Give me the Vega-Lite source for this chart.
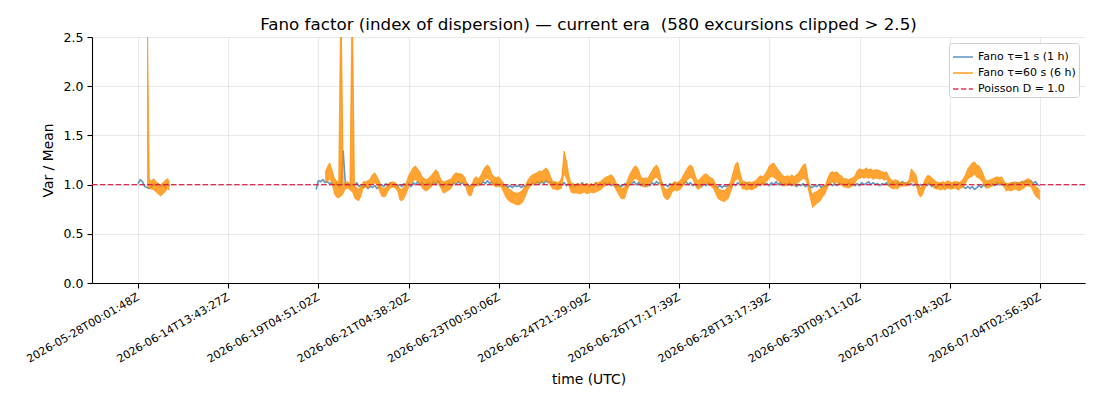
{
  "$schema": "https://vega.github.io/schema/vega-lite/v6.json",
  "autosize": {"type": "none"},
  "padding": {"left": 92, "top": 37, "right": 15, "bottom": 117},
  "width": 993,
  "height": 246,
  "title": {
    "text": "Fano factor (index of dispersion) — current era \u00a0(580 excursions clipped > 2.5)",
    "fontSize": 16.7,
    "fontWeight": "normal",
    "font": "DejaVu Sans",
    "color": "#000000",
    "offset": -3
  },
  "data": {
    "values": [
      {"u":0,"g":1,"b":1.01},{"u":2.5,"g":1,"b":1.05},{"u":5,"g":1,"b":1.03},{"u":7.5,"g":1,"b":0.98},
      {"u":10,"g":1,"b":0.97,"lo":0.97,"hi":3},{"u":12.5,"g":1,"b":0.96,"lo":0.96,"hi":1.05},
      {"u":15,"g":1,"b":0.98,"lo":0.95,"hi":1.04},{"u":17.5,"g":1,"b":1.00,"lo":0.94,"hi":1.06},
      {"u":20,"g":1,"b":0.99,"lo":0.92,"hi":1.03},{"u":22.5,"g":1,"b":1.01,"lo":0.90,"hi":1.01},
      {"u":25,"g":1,"b":0.98,"lo":0.88,"hi":0.99},{"u":27.5,"g":1,"b":1.00,"lo":0.90,"hi":1.02},
      {"u":30,"g":1,"b":0.97,"lo":0.92,"hi":1.04},{"u":32.5,"g":1,"b":1.01,"lo":0.95,"hi":1.06},
      {"u":35,"g":1,"b":0.99,"lo":0.94,"hi":1.03},

      {"u":197.5,"g":2,"b":0.95},{"u":200,"g":2,"b":1.04},{"u":202.5,"g":2,"b":1.03},{"u":205,"g":2,"b":1.05},
      {"u":207.5,"g":2,"b":1.02,"lo":1.02,"hi":1.12},{"u":210,"g":2,"b":1.03,"lo":1.03,"hi":1.18},
      {"u":212.5,"g":2,"b":1.01,"lo":1.05,"hi":1.22},{"u":215,"g":2,"b":1.02,"lo":1.00,"hi":1.15},
      {"u":217.5,"g":2,"b":0.99,"lo":0.90,"hi":1.07},{"u":220,"g":2,"b":1.01,"lo":0.87,"hi":1.04},
      {"u":222.5,"g":2,"b":0.98,"lo":0.86,"hi":1.02},{"u":225,"g":2,"b":0.99,"lo":0.88,"hi":3},
      {"u":227.5,"g":2,"b":1.34,"lo":0.90,"hi":1.00},{"u":230,"g":2,"b":0.99,"lo":0.95,"hi":1.02},
      {"u":232.5,"g":2,"b":1.01,"lo":0.96,"hi":1.03},{"u":235,"g":2,"b":0.98,"lo":0.94,"hi":1.01},
      {"u":237.5,"g":2,"b":1.00,"lo":0.92,"hi":3},{"u":240,"g":2,"b":0.99,"lo":0.86,"hi":0.98},
      {"u":242.5,"g":2,"b":1.02,"lo":0.84,"hi":0.97},{"u":245,"g":2,"b":0.98,"lo":0.83,"hi":0.95},
      {"u":247.5,"g":2,"b":1.00,"lo":0.88,"hi":0.99},{"u":250,"g":2,"b":0.97,"lo":0.96,"hi":1.03},
      {"u":252.5,"g":2,"b":0.99,"lo":0.97,"hi":1.03},{"u":255,"g":2,"b":0.96,"lo":0.96,"hi":1.04},
      {"u":257.5,"g":2,"b":0.98,"lo":0.98,"hi":1.06},{"u":260,"g":2,"b":0.97,"lo":1.00,"hi":1.10},
      {"u":262.5,"g":2,"b":0.99,"lo":1.01,"hi":1.12},{"u":265,"g":2,"b":0.96,"lo":0.99,"hi":1.08},
      {"u":267.5,"g":2,"b":0.98,"lo":0.93,"hi":1.04},{"u":270,"g":2,"b":1.00,"lo":0.88,"hi":0.97},
      {"u":272.5,"g":2,"b":0.98,"lo":0.87,"hi":0.96},{"u":275,"g":2,"b":1.01,"lo":0.88,"hi":0.97},
      {"u":277.5,"g":2,"b":0.99,"lo":0.93,"hi":1.01},{"u":280,"g":2,"b":1.02,"lo":0.96,"hi":1.02},
      {"u":282.5,"g":2,"b":0.99,"lo":0.97,"hi":1.03},{"u":285,"g":2,"b":1.01,"lo":0.96,"hi":1.02},
      {"u":287.5,"g":2,"b":0.98,"lo":0.93,"hi":1.00},{"u":290,"g":2,"b":1.00,"lo":0.84,"hi":0.96},
      {"u":292.5,"g":2,"b":0.98,"lo":0.83,"hi":0.95},{"u":295,"g":2,"b":1.01,"lo":0.85,"hi":0.98},
      {"u":297.5,"g":2,"b":0.99,"lo":0.90,"hi":1.02},{"u":300,"g":2,"b":1.01,"lo":0.96,"hi":1.09},
      {"u":302.5,"g":2,"b":0.98,"lo":1.00,"hi":1.13},{"u":305,"g":2,"b":1.02,"lo":1.03,"hi":1.17},
      {"u":307.5,"g":2,"b":1.00,"lo":1.05,"hi":1.19},{"u":310,"g":2,"b":1.03,"lo":1.03,"hi":1.16},
      {"u":312.5,"g":2,"b":1.00,"lo":1.00,"hi":1.13},{"u":315,"g":2,"b":1.02,"lo":0.96,"hi":1.08},
      {"u":317.5,"g":2,"b":0.99,"lo":0.94,"hi":1.06},{"u":320,"g":2,"b":1.01,"lo":0.93,"hi":1.05},
      {"u":322.5,"g":2,"b":1.02,"lo":0.95,"hi":1.07},{"u":325,"g":2,"b":0.99,"lo":0.97,"hi":1.09},
      {"u":327.5,"g":2,"b":1.03,"lo":1.00,"hi":1.12},{"u":330,"g":2,"b":1.00,"lo":1.02,"hi":1.15},
      {"u":332.5,"g":2,"b":1.04,"lo":1.01,"hi":1.13},{"u":335,"g":2,"b":1.01,"lo":0.97,"hi":1.07},
      {"u":337.5,"g":2,"b":0.98,"lo":0.92,"hi":1.03},{"u":340,"g":2,"b":1.01,"lo":0.91,"hi":1.03},
      {"u":342.5,"g":2,"b":0.99,"lo":0.93,"hi":1.04},{"u":345,"g":2,"b":1.02,"lo":0.94,"hi":1.05},
      {"u":347.5,"g":2,"b":0.99,"lo":0.96,"hi":1.06},{"u":350,"g":2,"b":1.02,"lo":1.00,"hi":1.10},
      {"u":352.5,"g":2,"b":1.00,"lo":1.02,"hi":1.12},{"u":355,"g":2,"b":1.03,"lo":1.03,"hi":1.11},
      {"u":357.5,"g":2,"b":1.01,"lo":1.01,"hi":1.11},{"u":360,"g":2,"b":1.02,"lo":1.02,"hi":1.10},
      {"u":362.5,"g":2,"b":0.99,"lo":0.99,"hi":1.07},{"u":365,"g":2,"b":1.01,"lo":0.91,"hi":1.00},
      {"u":367.5,"g":2,"b":0.98,"lo":0.88,"hi":0.98},{"u":370,"g":2,"b":1.00,"lo":0.89,"hi":0.99},
      {"u":372.5,"g":2,"b":1.01,"lo":0.96,"hi":1.06},{"u":375,"g":2,"b":0.99,"lo":0.99,"hi":1.08},
      {"u":377.5,"g":2,"b":1.02,"lo":0.98,"hi":1.06},{"u":380,"g":2,"b":1.00,"lo":1.00,"hi":1.09},
      {"u":382.5,"g":2,"b":1.03,"lo":1.03,"hi":1.14},{"u":385,"g":2,"b":1.01,"lo":1.05,"hi":1.18},
      {"u":387.5,"g":2,"b":1.04,"lo":1.06,"hi":1.20},{"u":390,"g":2,"b":1.01,"lo":1.04,"hi":1.17},
      {"u":392.5,"g":2,"b":1.03,"lo":1.00,"hi":1.10},{"u":395,"g":2,"b":1.00,"lo":0.98,"hi":1.08},
      {"u":397.5,"g":2,"b":1.02,"lo":0.97,"hi":1.07},{"u":400,"g":2,"b":0.99,"lo":0.98,"hi":1.08},
      {"u":402.5,"g":2,"b":1.01,"lo":0.97,"hi":1.05},{"u":405,"g":2,"b":0.98,"lo":0.92,"hi":1.02},
      {"u":407.5,"g":2,"b":1.00,"lo":0.87,"hi":0.98},{"u":410,"g":2,"b":0.97,"lo":0.84,"hi":0.96},
      {"u":412.5,"g":2,"b":0.99,"lo":0.82,"hi":0.95},{"u":415,"g":2,"b":0.97,"lo":0.81,"hi":0.93},
      {"u":417.5,"g":2,"b":0.99,"lo":0.80,"hi":0.92},{"u":420,"g":2,"b":0.98,"lo":0.79,"hi":0.91},
      {"u":422.5,"g":2,"b":0.99,"lo":0.79,"hi":0.92},{"u":425,"g":2,"b":0.97,"lo":0.80,"hi":0.93},
      {"u":427.5,"g":2,"b":0.99,"lo":0.83,"hi":0.96},{"u":430,"g":2,"b":0.98,"lo":0.88,"hi":1.00},
      {"u":432.5,"g":2,"b":1.01,"lo":0.94,"hi":1.05},{"u":435,"g":2,"b":0.99,"lo":0.98,"hi":1.08},
      {"u":437.5,"g":2,"b":1.02,"lo":1.00,"hi":1.10},{"u":440,"g":2,"b":1.00,"lo":1.00,"hi":1.11},
      {"u":442.5,"g":2,"b":1.03,"lo":1.01,"hi":1.12},{"u":445,"g":2,"b":1.01,"lo":1.02,"hi":1.14},
      {"u":447.5,"g":2,"b":1.03,"lo":1.01,"hi":1.13},{"u":450,"g":2,"b":1.01,"lo":1.03,"hi":1.15},
      {"u":452.5,"g":2,"b":1.04,"lo":1.04,"hi":1.17},{"u":455,"g":2,"b":1.02,"lo":1.02,"hi":1.14},
      {"u":457.5,"g":2,"b":1.03,"lo":0.98,"hi":1.08},{"u":460,"g":2,"b":1.00,"lo":0.95,"hi":1.03},
      {"u":462.5,"g":2,"b":1.02,"lo":0.95,"hi":1.03},{"u":465,"g":2,"b":0.99,"lo":0.94,"hi":1.02},
      {"u":467.5,"g":2,"b":1.01,"lo":0.95,"hi":1.03},{"u":470,"g":2,"b":1.00,"lo":0.96,"hi":1.08},
      {"u":472.5,"g":2,"b":1.02,"lo":1.10,"hi":1.34},{"u":475,"g":2,"b":0.99,"lo":1.05,"hi":1.24},
      {"u":477.5,"g":2,"b":1.01,"lo":0.98,"hi":1.10},{"u":480,"g":2,"b":0.98,"lo":0.92,"hi":1.02},
      {"u":482.5,"g":2,"b":1.00,"lo":0.91,"hi":1.01},{"u":485,"g":2,"b":0.98,"lo":0.91,"hi":1.00},
      {"u":487.5,"g":2,"b":1.01,"lo":0.91,"hi":1.01},{"u":490,"g":2,"b":0.99,"lo":0.90,"hi":1.00},
      {"u":492.5,"g":2,"b":1.02,"lo":0.91,"hi":1.01},{"u":495,"g":2,"b":0.99,"lo":0.92,"hi":1.00},
      {"u":497.5,"g":2,"b":1.01,"lo":0.90,"hi":1.01},{"u":500,"g":2,"b":0.98,"lo":0.91,"hi":1.00},
      {"u":502.5,"g":2,"b":1.00,"lo":0.92,"hi":1.01},{"u":505,"g":2,"b":0.99,"lo":0.91,"hi":1.00},
      {"u":507.5,"g":2,"b":1.02,"lo":0.92,"hi":1.02},{"u":510,"g":2,"b":0.98,"lo":0.93,"hi":1.02},
      {"u":512.5,"g":2,"b":1.01,"lo":0.94,"hi":1.03},{"u":515,"g":2,"b":0.99,"lo":0.96,"hi":1.05},
      {"u":517.5,"g":2,"b":1.02,"lo":0.98,"hi":1.07},{"u":520,"g":2,"b":1.00,"lo":0.99,"hi":1.08},
      {"u":522.5,"g":2,"b":1.02,"lo":1.00,"hi":1.09},{"u":525,"g":2,"b":0.99,"lo":1.01,"hi":1.10},
      {"u":527.5,"g":2,"b":1.01,"lo":0.98,"hi":1.07},{"u":530,"g":2,"b":0.98,"lo":0.94,"hi":1.02},
      {"u":532.5,"g":2,"b":1.00,"lo":0.90,"hi":0.99},{"u":535,"g":2,"b":0.98,"lo":0.86,"hi":0.97},
      {"u":537.5,"g":2,"b":0.99,"lo":0.85,"hi":0.96},{"u":540,"g":2,"b":1.01,"lo":0.86,"hi":0.98},
      {"u":542.5,"g":2,"b":0.98,"lo":0.93,"hi":1.04},{"u":545,"g":2,"b":1.00,"lo":0.99,"hi":1.10},
      {"u":547.5,"g":2,"b":1.01,"lo":1.02,"hi":1.14},{"u":550,"g":2,"b":1.03,"lo":1.05,"hi":1.18},
      {"u":552.5,"g":2,"b":1.00,"lo":1.06,"hi":1.19},{"u":555,"g":2,"b":1.02,"lo":1.03,"hi":1.15},
      {"u":557.5,"g":2,"b":0.99,"lo":0.99,"hi":1.08},{"u":560,"g":2,"b":1.01,"lo":0.97,"hi":1.06},
      {"u":562.5,"g":2,"b":0.98,"lo":0.98,"hi":1.07},{"u":565,"g":2,"b":1.00,"lo":0.97,"hi":1.06},
      {"u":567.5,"g":2,"b":0.99,"lo":1.00,"hi":1.10},{"u":570,"g":2,"b":1.02,"lo":1.03,"hi":1.14},
      {"u":572.5,"g":2,"b":1.00,"lo":1.06,"hi":1.18},{"u":575,"g":2,"b":1.03,"lo":1.07,"hi":1.20},
      {"u":577.5,"g":2,"b":1.01,"lo":1.04,"hi":1.16},{"u":580,"g":2,"b":1.02,"lo":0.96,"hi":1.06},
      {"u":582.5,"g":2,"b":0.99,"lo":0.88,"hi":0.98},{"u":585,"g":2,"b":1.00,"lo":0.85,"hi":0.95},
      {"u":587.5,"g":2,"b":0.98,"lo":0.84,"hi":0.95},{"u":590,"g":2,"b":1.01,"lo":0.87,"hi":0.98},
      {"u":592.5,"g":2,"b":0.99,"lo":0.92,"hi":1.01},{"u":595,"g":2,"b":1.02,"lo":0.94,"hi":1.03},
      {"u":597.5,"g":2,"b":1.00,"lo":0.93,"hi":1.02},{"u":600,"g":2,"b":1.02,"lo":0.94,"hi":1.03},
      {"u":602.5,"g":2,"b":0.99,"lo":0.96,"hi":1.06},{"u":605,"g":2,"b":1.01,"lo":0.99,"hi":1.10},
      {"u":607.5,"g":2,"b":1.03,"lo":1.02,"hi":1.14},{"u":610,"g":2,"b":1.00,"lo":1.05,"hi":1.18},
      {"u":612.5,"g":2,"b":1.02,"lo":1.07,"hi":1.20},{"u":615,"g":2,"b":0.99,"lo":1.05,"hi":1.18},
      {"u":617.5,"g":2,"b":1.01,"lo":0.99,"hi":1.10},{"u":620,"g":2,"b":0.98,"lo":0.95,"hi":1.04},
      {"u":622.5,"g":2,"b":1.00,"lo":0.95,"hi":1.05},{"u":625,"g":2,"b":0.98,"lo":0.98,"hi":1.08},
      {"u":627.5,"g":2,"b":1.01,"lo":1.00,"hi":1.10},{"u":630,"g":2,"b":0.99,"lo":1.01,"hi":1.11},
      {"u":632.5,"g":2,"b":1.02,"lo":0.99,"hi":1.09},{"u":635,"g":2,"b":1.00,"lo":0.98,"hi":1.07},
      {"u":637.5,"g":2,"b":1.01,"lo":0.96,"hi":1.06},{"u":640,"g":2,"b":0.98,"lo":0.91,"hi":1.01},
      {"u":642.5,"g":2,"b":0.97,"lo":0.86,"hi":0.97},{"u":645,"g":2,"b":0.99,"lo":0.84,"hi":0.95},
      {"u":647.5,"g":2,"b":0.97,"lo":0.83,"hi":0.94},{"u":650,"g":2,"b":0.99,"lo":0.82,"hi":0.94},
      {"u":652.5,"g":2,"b":0.98,"lo":0.84,"hi":0.96},{"u":655,"g":2,"b":1.00,"lo":0.86,"hi":0.99},
      {"u":657.5,"g":2,"b":0.98,"lo":0.92,"hi":1.04},{"u":660,"g":2,"b":1.01,"lo":0.99,"hi":1.13},
      {"u":662.5,"g":2,"b":0.99,"lo":1.04,"hi":1.21},{"u":665,"g":2,"b":1.02,"lo":1.06,"hi":1.23},
      {"u":667.5,"g":2,"b":1.00,"lo":1.00,"hi":1.12},{"u":670,"g":2,"b":1.01,"lo":0.95,"hi":1.04},
      {"u":672.5,"g":2,"b":0.99,"lo":0.95,"hi":1.03},{"u":675,"g":2,"b":1.02,"lo":0.94,"hi":1.02},
      {"u":677.5,"g":2,"b":1.00,"lo":0.95,"hi":1.03},{"u":680,"g":2,"b":0.98,"lo":0.94,"hi":1.02},
      {"u":682.5,"g":2,"b":1.01,"lo":0.95,"hi":1.03},{"u":685,"g":2,"b":0.99,"lo":0.96,"hi":1.04},
      {"u":687.5,"g":2,"b":1.01,"lo":0.98,"hi":1.07},{"u":690,"g":2,"b":0.99,"lo":1.00,"hi":1.09},
      {"u":692.5,"g":2,"b":1.02,"lo":0.99,"hi":1.08},{"u":695,"g":2,"b":1.00,"lo":1.00,"hi":1.10},
      {"u":697.5,"g":2,"b":1.01,"lo":1.03,"hi":1.14},{"u":700,"g":2,"b":0.99,"lo":1.06,"hi":1.19},
      {"u":702.5,"g":2,"b":1.02,"lo":1.08,"hi":1.21},{"u":705,"g":2,"b":1.00,"lo":1.07,"hi":1.22},
      {"u":707.5,"g":2,"b":1.03,"lo":1.05,"hi":1.18},{"u":710,"g":2,"b":1.00,"lo":1.03,"hi":1.15},
      {"u":712.5,"g":2,"b":1.02,"lo":1.01,"hi":1.12},{"u":715,"g":2,"b":0.99,"lo":0.99,"hi":1.09},
      {"u":717.5,"g":2,"b":1.01,"lo":0.98,"hi":1.08},{"u":720,"g":2,"b":1.00,"lo":0.99,"hi":1.09},
      {"u":722.5,"g":2,"b":1.02,"lo":0.99,"hi":1.08},{"u":725,"g":2,"b":0.99,"lo":1.00,"hi":1.10},
      {"u":727.5,"g":2,"b":1.01,"lo":0.98,"hi":1.08},{"u":730,"g":2,"b":0.98,"lo":1.00,"hi":1.10},
      {"u":732.5,"g":2,"b":1.00,"lo":1.02,"hi":1.12},{"u":735,"g":2,"b":0.99,"lo":1.04,"hi":1.16},
      {"u":737.5,"g":2,"b":1.01,"lo":1.06,"hi":1.20},{"u":740,"g":2,"b":0.98,"lo":1.05,"hi":1.21},
      {"u":742.5,"g":2,"b":1.00,"lo":0.96,"hi":1.08},{"u":745,"g":2,"b":0.98,"lo":0.86,"hi":0.98},
      {"u":747.5,"g":2,"b":0.97,"lo":0.76,"hi":0.90},{"u":750,"g":2,"b":0.99,"lo":0.78,"hi":0.92},
      {"u":752.5,"g":2,"b":0.98,"lo":0.80,"hi":0.93},{"u":755,"g":2,"b":1.00,"lo":0.82,"hi":0.95},
      {"u":757.5,"g":2,"b":0.97,"lo":0.84,"hi":0.96},{"u":760,"g":2,"b":0.99,"lo":0.88,"hi":0.98},
      {"u":762.5,"g":2,"b":0.98,"lo":0.91,"hi":1.00},{"u":765,"g":2,"b":1.00,"lo":0.97,"hi":1.07},
      {"u":767.5,"g":2,"b":1.01,"lo":1.01,"hi":1.12},{"u":770,"g":2,"b":0.99,"lo":1.02,"hi":1.13},
      {"u":772.5,"g":2,"b":1.01,"lo":1.01,"hi":1.12},{"u":775,"g":2,"b":0.99,"lo":1.02,"hi":1.13},
      {"u":777.5,"g":2,"b":1.02,"lo":1.00,"hi":1.10},{"u":780,"g":2,"b":1.00,"lo":0.99,"hi":1.09},
      {"u":782.5,"g":2,"b":1.01,"lo":0.97,"hi":1.06},{"u":785,"g":2,"b":0.99,"lo":0.97,"hi":1.06},
      {"u":787.5,"g":2,"b":1.02,"lo":0.96,"hi":1.05},{"u":790,"g":2,"b":1.00,"lo":0.97,"hi":1.06},
      {"u":792.5,"g":2,"b":1.01,"lo":0.98,"hi":1.07},{"u":795,"g":2,"b":0.99,"lo":1.00,"hi":1.09},
      {"u":797.5,"g":2,"b":1.01,"lo":1.05,"hi":1.14},{"u":800,"g":2,"b":0.99,"lo":1.06,"hi":1.16},
      {"u":802.5,"g":2,"b":1.02,"lo":1.07,"hi":1.15},{"u":805,"g":2,"b":1.00,"lo":1.06,"hi":1.15},
      {"u":807.5,"g":2,"b":1.01,"lo":1.07,"hi":1.17},{"u":810,"g":2,"b":1.03,"lo":1.06,"hi":1.15},
      {"u":812.5,"g":2,"b":1.00,"lo":1.07,"hi":1.16},{"u":815,"g":2,"b":1.02,"lo":1.05,"hi":1.14},
      {"u":817.5,"g":2,"b":1.00,"lo":1.06,"hi":1.15},{"u":820,"g":2,"b":1.01,"lo":1.06,"hi":1.15},
      {"u":822.5,"g":2,"b":0.99,"lo":1.05,"hi":1.14},{"u":825,"g":2,"b":1.01,"lo":1.06,"hi":1.13},
      {"u":827.5,"g":2,"b":1.00,"lo":1.04,"hi":1.12},{"u":830,"g":2,"b":1.02,"lo":1.05,"hi":1.13},
      {"u":832.5,"g":2,"b":0.99,"lo":0.98,"hi":1.08},{"u":835,"g":2,"b":1.01,"lo":0.96,"hi":1.05},
      {"u":837.5,"g":2,"b":1.02,"lo":0.95,"hi":1.04},{"u":840,"g":2,"b":1.00,"lo":0.96,"hi":1.05},
      {"u":842.5,"g":2,"b":1.02,"lo":0.95,"hi":1.04},{"u":845,"g":2,"b":1.01,"lo":0.98,"hi":1.02},
      {"u":847.5,"g":2,"b":1.03,"lo":0.98,"hi":1.02},{"u":850,"g":2,"b":1.01,"lo":0.98,"hi":1.02},
      {"u":852.5,"g":2,"b":1.02,"lo":0.98,"hi":1.02},{"u":855,"g":2,"b":1.00,"lo":0.99,"hi":1.05},
      {"u":857.5,"g":2,"b":1.01,"lo":1.03,"hi":1.16},{"u":860,"g":2,"b":0.99,"lo":1.02,"hi":1.13},
      {"u":862.5,"g":2,"b":1.01,"lo":0.99,"hi":1.10},{"u":865,"g":2,"b":0.98,"lo":0.90,"hi":1.00},
      {"u":867.5,"g":2,"b":1.00,"lo":0.87,"hi":0.97},{"u":870,"g":2,"b":0.99,"lo":0.89,"hi":0.99},
      {"u":872.5,"g":2,"b":1.01,"lo":0.95,"hi":1.05},{"u":875,"g":2,"b":0.99,"lo":1.00,"hi":1.09},
      {"u":877.5,"g":2,"b":1.02,"lo":1.00,"hi":1.09},{"u":880,"g":2,"b":0.98,"lo":0.99,"hi":1.07},
      {"u":882.5,"g":2,"b":1.00,"lo":0.96,"hi":1.05},{"u":885,"g":2,"b":0.97,"lo":0.95,"hi":1.03},
      {"u":887.5,"g":2,"b":0.99,"lo":0.95,"hi":1.02},{"u":890,"g":2,"b":1.01,"lo":0.94,"hi":1.02},
      {"u":892.5,"g":2,"b":0.98,"lo":0.95,"hi":1.03},{"u":895,"g":2,"b":1.00,"lo":0.94,"hi":1.02},
      {"u":897.5,"g":2,"b":0.98,"lo":0.96,"hi":1.04},{"u":900,"g":2,"b":1.00,"lo":0.95,"hi":1.03},
      {"u":902.5,"g":2,"b":0.97,"lo":0.95,"hi":1.02},{"u":905,"g":2,"b":1.01,"lo":0.96,"hi":1.03},
      {"u":907.5,"g":2,"b":0.99,"lo":0.95,"hi":1.03},{"u":910,"g":2,"b":1.02,"lo":0.94,"hi":1.02},
      {"u":912.5,"g":2,"b":1.00,"lo":0.96,"hi":1.03},{"u":915,"g":2,"b":0.98,"lo":0.97,"hi":1.06},
      {"u":917.5,"g":2,"b":0.96,"lo":1.00,"hi":1.10},{"u":920,"g":2,"b":0.98,"lo":1.05,"hi":1.16},
      {"u":922.5,"g":2,"b":0.96,"lo":1.07,"hi":1.19},{"u":925,"g":2,"b":0.98,"lo":1.08,"hi":1.22},
      {"u":927.5,"g":2,"b":0.95,"lo":1.10,"hi":1.23},{"u":930,"g":2,"b":0.97,"lo":1.07,"hi":1.20},
      {"u":932.5,"g":2,"b":0.99,"lo":1.06,"hi":1.19},{"u":935,"g":2,"b":0.97,"lo":1.04,"hi":1.15},
      {"u":937.5,"g":2,"b":1.00,"lo":1.00,"hi":1.10},{"u":940,"g":2,"b":0.98,"lo":0.96,"hi":1.04},
      {"u":942.5,"g":2,"b":1.01,"lo":0.96,"hi":1.04},{"u":945,"g":2,"b":0.99,"lo":0.97,"hi":1.05},
      {"u":947.5,"g":2,"b":1.01,"lo":0.98,"hi":1.06},{"u":950,"g":2,"b":0.99,"lo":1.00,"hi":1.07},
      {"u":952.5,"g":2,"b":1.02,"lo":1.01,"hi":1.08},{"u":955,"g":2,"b":1.00,"lo":1.00,"hi":1.07},
      {"u":957.5,"g":2,"b":1.02,"lo":1.00,"hi":1.08},{"u":960,"g":2,"b":0.99,"lo":0.97,"hi":1.04},
      {"u":962.5,"g":2,"b":1.01,"lo":0.93,"hi":1.01},{"u":965,"g":2,"b":0.98,"lo":0.94,"hi":1.01},
      {"u":967.5,"g":2,"b":1.00,"lo":0.93,"hi":1.02},{"u":970,"g":2,"b":1.02,"lo":0.94,"hi":1.02},
      {"u":972.5,"g":2,"b":1.00,"lo":0.95,"hi":1.03},{"u":975,"g":2,"b":1.02,"lo":0.94,"hi":1.02},
      {"u":977.5,"g":2,"b":1.01,"lo":0.93,"hi":1.02},{"u":980,"g":2,"b":1.03,"lo":0.95,"hi":1.03},
      {"u":982.5,"g":2,"b":1.01,"lo":0.96,"hi":1.04},{"u":985,"g":2,"b":1.04,"lo":0.98,"hi":1.05},
      {"u":987.5,"g":2,"b":1.02,"lo":0.98,"hi":1.06},{"u":990,"g":2,"b":1.04,"lo":0.97,"hi":1.04},
      {"u":992.5,"g":2,"b":1.01,"lo":0.92,"hi":1.01},{"u":995,"g":2,"b":1.03,"lo":0.88,"hi":0.98},
      {"u":997.5,"g":2,"b":1.00,"lo":0.86,"hi":0.97},{"u":1000,"g":2,"b":0.99,"lo":0.84,"hi":0.93}
    ]
  },
  "encoding": {
    "x": {
      "field": "u",
      "type": "quantitative",
      "scale": {"domain": [-51, 1050], "nice": false, "zero": false},
      "axis": {
        "title": "time (UTC)",
        "values": [0, 100, 200, 300, 400, 500, 600, 700, 800, 900, 1000],
        "labelExpr": "['2026-05-28T00:01:48Z','2026-06-14T13:43:27Z','2026-06-19T04:51:02Z','2026-06-21T04:38:20Z','2026-06-23T00:50:06Z','2026-06-24T21:29:09Z','2026-06-26T17:17:39Z','2026-06-28T13:17:39Z','2026-06-30T09:11:10Z','2026-07-02T07:04:30Z','2026-07-04T02:56:30Z'][round(datum.value / 100)]",
        "labelAngle": -30,
        "labelAlign": "right",
        "labelBaseline": "top",
        "labelOffset": -3,
        "labelPadding": 3,
        "labelOverlap": false,
        "labelBound": false,
        "titlePadding": 8
      }
    },
    "detail": {"field": "g", "type": "nominal"}
  },
  "layer": [
    {
      "transform": [{"filter": "isValid(datum.b)"}],
      "mark": {"type": "line", "clip": true, "strokeWidth": 1.6, "opacity": 0.85, "strokeJoin": "round"},
      "encoding": {
        "y": {
          "field": "b",
          "type": "quantitative",
          "scale": {"domain": [0, 2.5], "nice": false},
          "axis": {
            "title": "Var / Mean",
            "values": [0, 0.5, 1, 1.5, 2, 2.5],
            "format": ".1f",
            "labelFontSize": 12.5,
            "titlePadding": 8
          }
        },
        "color": {
          "datum": "b",
          "type": "nominal",
          "scale": {"domain": ["b", "o", "p"], "range": ["#4682b4", "#ff8c00", "#dc143c"]},
          "legend": {
            "labelExpr": "datum.value == 'b' ? 'Fano τ=1 s (1 h)' : datum.value == 'o' ? 'Fano τ=60 s (6 h)' : 'Poisson D = 1.0'"
          }
        },
        "strokeDash": {
          "datum": "b",
          "type": "nominal",
          "scale": {"domain": ["b", "o", "p"], "range": [[1, 0], [1, 0], [5.5, 2.4]]},
          "legend": {
            "labelExpr": "datum.value == 'b' ? 'Fano τ=1 s (1 h)' : datum.value == 'o' ? 'Fano τ=60 s (6 h)' : 'Poisson D = 1.0'"
          }
        }
      }
    },
    {
      "transform": [{"filter": "isValid(datum.hi)"}],
      "mark": {"type": "area", "clip": true, "opacity": 0.8, "color": "#ff8c00"},
      "encoding": {
        "y": {"field": "lo", "type": "quantitative"},
        "y2": {"field": "hi"}
      }
    },
    {
      "transform": [{"filter": "isValid(datum.hi)"}],
      "mark": {"type": "line", "clip": true, "strokeWidth": 1, "opacity": 0.8, "strokeJoin": "round"},
      "encoding": {
        "y": {"field": "hi", "type": "quantitative"},
        "color": {"datum": "o", "type": "nominal"},
        "strokeDash": {"datum": "o", "type": "nominal"}
      }
    },
    {
      "data": {"values": [{"v": 1.0}]},
      "mark": {"type": "rule", "strokeWidth": 1.3, "opacity": 0.9},
      "encoding": {
        "x": null,
        "detail": null,
        "y": {"field": "v", "type": "quantitative"},
        "color": {"datum": "p", "type": "nominal"},
        "strokeDash": {"datum": "p", "type": "nominal"}
      }
    }
  ],
  "config": {
    "font": "DejaVu Sans",
    "view": {"stroke": null},
    "axis": {
      "domainColor": "#000000",
      "domainWidth": 1.1,
      "tickColor": "#000000",
      "tickSize": 5,
      "tickWidth": 1.1,
      "labelColor": "#000000",
      "labelFont": "DejaVu Sans",
      "labelFontSize": 11,
      "titleFont": "DejaVu Sans",
      "titleFontSize": 13.9,
      "titleFontWeight": "normal",
      "titleColor": "#000000",
      "gridColor": "#b0b0b0",
      "gridOpacity": 0.35,
      "gridWidth": 0.8,
      "grid": true
    },
    "axisY": {"labelPadding": 4},
    "legend": {
      "orient": "top-right",
      "offset": 6,
      "title": null,
      "fillColor": "#ffffff",
      "strokeColor": "#d0d0d0",
      "cornerRadius": 3,
      "padding": 3,
      "labelFont": "DejaVu Sans",
      "labelFontSize": 11,
      "labelColor": "#000000",
      "symbolType": "stroke",
      "symbolStrokeWidth": 1.5,
      "symbolSize": 400,
      "rowPadding": 0
    }
  }
}
